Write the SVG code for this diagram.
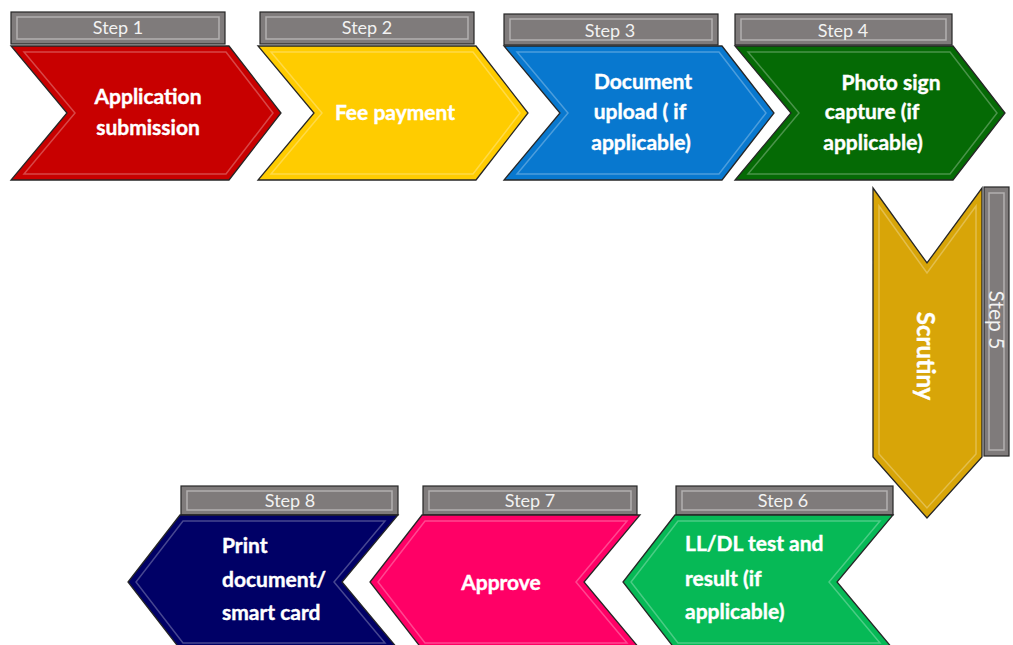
<svg xmlns="http://www.w3.org/2000/svg" xmlns:xlink="http://www.w3.org/1999/xlink" width="1013" height="645" viewBox="0 0 1013 645">
<style>
.outer{stroke:#262626;stroke-width:1.3;stroke-linejoin:miter}
.inner{fill:none;stroke:#ffffff;stroke-opacity:0.28;stroke-width:1.5}
.tab{fill:#7f7b7b;stroke:#262626;stroke-width:1.2}
.tabin{fill:none;stroke:#b3b0b0;stroke-width:1.5}
.tabtx{font-family:Lato,"Open Sans",sans-serif;font-size:18px;fill:#f2f2f2;text-anchor:middle}
.lbl{font-family:Lato,"Open Sans",sans-serif;font-weight:bold;font-size:21px;fill:#ffffff;stroke:#ffffff;stroke-width:0.4}
.mid{text-anchor:middle}
</style>
<defs>
<polygon id="chev" points="0,0 218,0 270,67 218,134 0,134 56,67"/>
<polygon id="chevIn" points="13,6 215,6 262,67 215,128 13,128 64,67"/>
</defs>
<rect width="1013" height="645" fill="#ffffff"/>
<g id="connectors"></g>

<g id="step1">
<rect class="tab" x="11" y="12" width="214" height="32"/>
<rect class="tabin" x="17" y="17" width="202" height="22"/>
<text class="tabtx" x="118" y="34">Step 1</text>
<g transform="translate(11,46)"><use xlink:href="#chev" class="outer" fill="#c80000"/><use xlink:href="#chevIn" class="inner"/></g>
<text class="lbl mid" x="148" y="104">Application</text>
<text class="lbl mid" x="148" y="135">submission</text>
</g>

<g id="step2">
<rect class="tab" x="260" y="12" width="214" height="32"/>
<rect class="tabin" x="266" y="17" width="202" height="22"/>
<text class="tabtx" x="367" y="34">Step 2</text>
<g transform="translate(258,46)"><use xlink:href="#chev" class="outer" fill="#ffcc00"/><use xlink:href="#chevIn" class="inner"/></g>
<text class="lbl mid" x="395" y="120">Fee payment</text>
</g>

<g id="step3">
<rect class="tab" x="504" y="14" width="214" height="31"/>
<rect class="tabin" x="510" y="19" width="202" height="21"/>
<text class="tabtx" x="610" y="37">Step 3</text>
<g transform="translate(504,46)"><use xlink:href="#chev" class="outer" fill="#0878cf"/><use xlink:href="#chevIn" class="inner"/></g>
<text class="lbl mid" x="643" y="89">Document</text>
<text class="lbl mid" x="640" y="119">upload ( if</text>
<text class="lbl mid" x="641" y="150">applicable)</text>
</g>

<g id="step4">
<rect class="tab" x="735" y="14" width="217" height="31"/>
<rect class="tabin" x="741" y="19" width="205" height="21"/>
<text class="tabtx" x="843" y="37">Step 4</text>
<g transform="translate(735,46)"><use xlink:href="#chev" class="outer" fill="#056a05"/><use xlink:href="#chevIn" class="inner"/></g>
<text class="lbl mid" x="891" y="90">Photo sign</text>
<text class="lbl mid" x="872" y="119">capture (if</text>
<text class="lbl mid" x="873" y="150">applicable)</text>
</g>

<g id="step5">
<rect class="tab" x="984" y="187" width="25" height="269"/>
<rect class="tabin" x="989" y="193" width="15" height="257"/>
<text class="tabtx" style="font-size:21px" transform="translate(989,320) rotate(90)" x="0" y="0">Step 5</text>
<polygon class="outer" fill="#d8a508" points="873,188 927,263 982,188 982,457 927,518 873,457"/>
<polygon class="inner" points="879,206 927,273 976,206 976,454 927,508 879,454"/>
<text class="lbl mid" style="font-size:24px" transform="translate(917,356) rotate(90)" x="0" y="0">Scrutiny</text>
</g>

<g id="step6">
<rect class="tab" x="676" y="486" width="217" height="29"/>
<rect class="tabin" x="682" y="491" width="205" height="19"/>
<text class="tabtx" x="783" y="507">Step 6</text>
<g transform="translate(893,515) scale(-1,1)"><use xlink:href="#chev" class="outer" fill="#06b956"/><use xlink:href="#chevIn" class="inner"/></g>
<text class="lbl" x="685" y="551">LL/DL test and</text>
<text class="lbl" x="685" y="586">result (if</text>
<text class="lbl" x="685" y="619">applicable)</text>
</g>

<g id="step7">
<rect class="tab" x="423" y="486" width="214" height="29"/>
<rect class="tabin" x="429" y="491" width="202" height="19"/>
<text class="tabtx" x="530" y="507">Step 7</text>
<g transform="translate(640,515) scale(-1,1)"><use xlink:href="#chev" class="outer" fill="#ff0066"/><use xlink:href="#chevIn" class="inner"/></g>
<text class="lbl mid" x="501" y="590">Approve</text>
</g>

<g id="step8">
<rect class="tab" x="181" y="486" width="217" height="29"/>
<rect class="tabin" x="187" y="491" width="205" height="19"/>
<text class="tabtx" x="290" y="507">Step 8</text>
<g transform="translate(398,515) scale(-1,1)"><use xlink:href="#chev" class="outer" fill="#000066"/><use xlink:href="#chevIn" class="inner"/></g>
<text class="lbl" x="222" y="553">Print</text>
<text class="lbl" x="222" y="587">document/</text>
<text class="lbl" x="222" y="620">smart card</text>
</g>
</svg>
